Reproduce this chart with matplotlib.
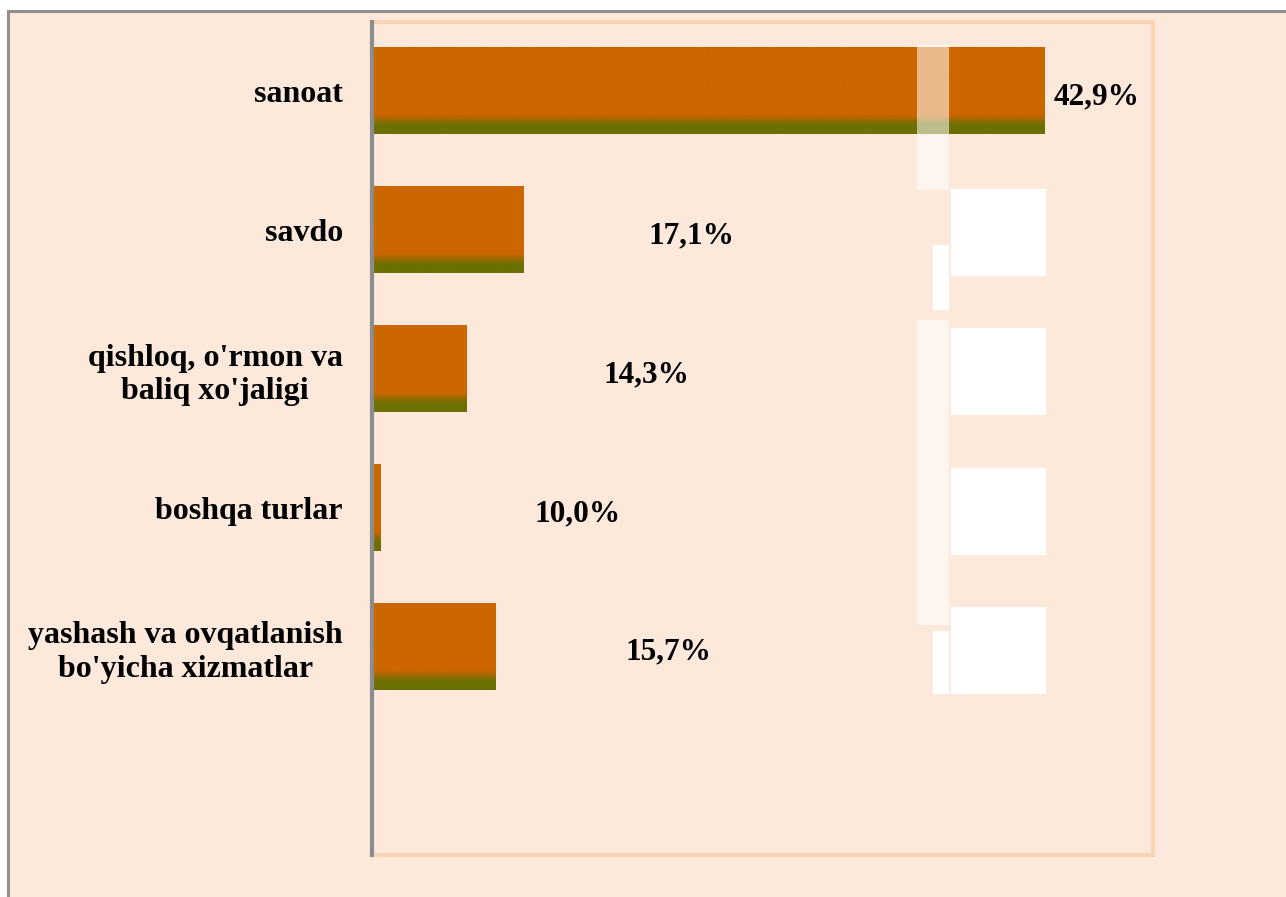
import matplotlib.pyplot as plt
import numpy as np
from matplotlib.colors import LinearSegmentedColormap
from matplotlib.patches import Rectangle

# data
categories = ['sanoat', 'savdo', "qishloq, o'rmon va\nbaliq xo'jaligi",
              'boshqa turlar', "yashash va ovqatlanish\nbo'yicha xizmatlar"]
values = [42.9, 17.1, 14.3, 10.0, 15.7]
labels = ['42,9%', '17,1%', '14,3%', '10,0%', '15,7%']

W, H = 1286, 897
bg = '#FCE9DB'
orange = '#CC6600'
olive = '#6B7000'

plt.rcParams['font.family'] = ['Liberation Serif', 'DejaVu Serif']

fig = plt.figure(figsize=(W / 100, H / 100), dpi=100, facecolor='white')

# outer frame (runs off the right/bottom edge)
fig.patches.append(Rectangle((8 / W, -0.05), 1.1, 1 - 11 / H + 0.05,
                             transform=fig.transFigure, facecolor=bg,
                             edgecolor='#8F8F8F', linewidth=2.2, zorder=-5))

ax = fig.add_axes([372 / W, 1 - 855 / H, (1153 - 372) / W, (855 - 22) / H])
ax.set_facecolor(bg)

# bar gradient: orange body, olive at the bottom
cmap = LinearSegmentedColormap.from_list('bar', [(0, orange), (0.78, orange),
                                                 (0.9, olive), (1, olive)])
grad = np.linspace(0, 1, 200).reshape(-1, 1)
h = 0.62
y = np.arange(len(values))
for yi, v in zip(y, values):
    ax.imshow(grad, cmap=cmap, aspect='auto', interpolation='bilinear',
              extent=(0, v, yi + h / 2, yi - h / 2), zorder=2)

ax.set_xlim(9.6, 48.3)
ax.set_ylim(5.5, -0.5)

# value labels
for yi, v, lab in zip(y, values, labels):
    if v == max(values):
        ax.text(v + 0.5, yi + 0.04, lab, ha='left', va='center',
                fontsize=22.5, fontweight='bold', zorder=4)
    else:
        ax.text(v * 0.79 + 11.9, yi + 0.04, lab, ha='center', va='center',
                fontsize=22.5, fontweight='bold', zorder=4)

ax.set_yticks(y)
ax.set_yticklabels(categories, fontsize=23, fontweight='bold',
                   multialignment='center', linespacing=1.2)
ax.tick_params(axis='y', length=0, pad=21)
ax.set_xticks([])

for s in ['top', 'right', 'bottom']:
    ax.spines[s].set_color('#F9D3B3')
    ax.spines[s].set_linewidth(2.8)
ax.spines['left'].set_color('#8C8C8C')
ax.spines['left'].set_linewidth(3)
ax.spines['left'].set_zorder(5)

# white rendering blocks seen on the right side of the original
def px_rect(x0, y0, x1, y1, alpha=1.0):
    fig.patches.append(Rectangle((x0 / W, 1 - y1 / H), (x1 - x0) / W, (y1 - y0) / H,
                                 transform=fig.transFigure, facecolor='white',
                                 edgecolor='none', alpha=alpha, zorder=10))

for top in [189, 328, 468, 607]:
    px_rect(951, top, 1046, top + 87)
px_rect(917, 45, 949, 190, alpha=0.55)
px_rect(917, 320, 949, 625, alpha=0.55)
px_rect(933, 245, 949, 310)
px_rect(933, 631, 949, 694)

fig.savefig('out.png', dpi=100, facecolor=fig.get_facecolor())
